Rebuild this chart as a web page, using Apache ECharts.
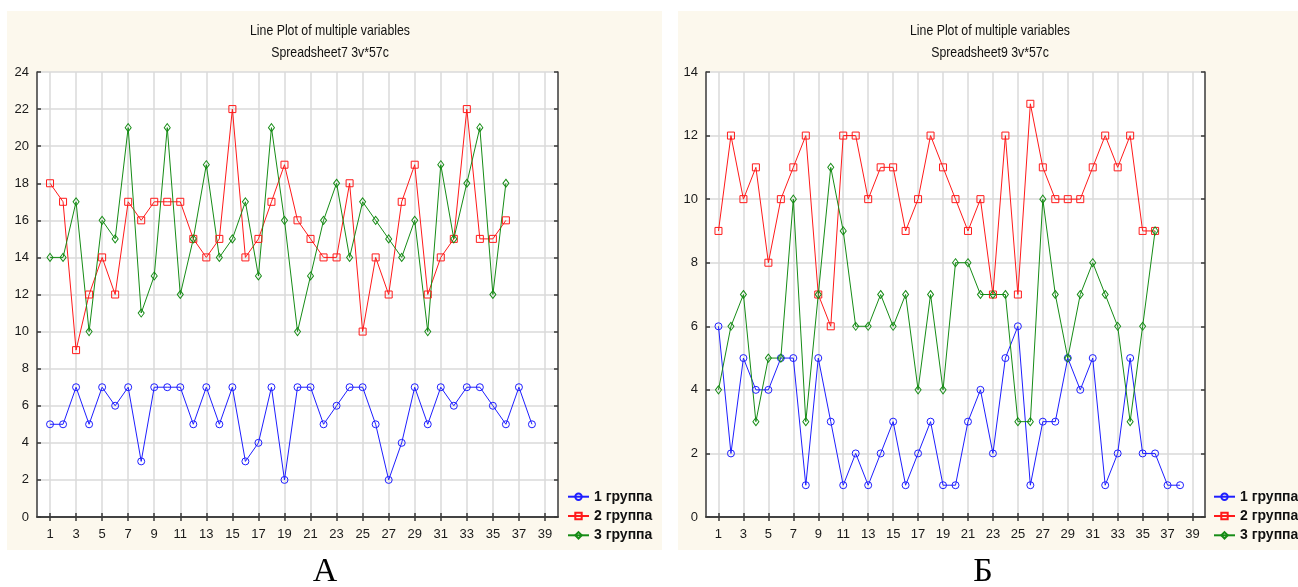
<!DOCTYPE html>
<html>
<head>
<meta charset="utf-8">
<script src="https://cdn.jsdelivr.net/npm/echarts@6/dist/echarts.min.js"></script>
<style>
  html, body { margin: 0; padding: 0; background: #ffffff; }
  #chart { width: 1298px; height: 587px; }
</style>
</head>
<body>
<div id="chart"></div>
<script>
// Case numbers along the x axis (0..40, labelled at odd cases)
const caseLabels = Array.from({ length: 41 }, (_, i) => String(i));
const groupNames = ['1 группа', '2 группа', '3 группа'];

// Spreadsheet7 (panel А)
const sheet7Group1 = [5, 5, 7, 5, 7, 6, 7, 3, 7, 7, 7, 5, 7, 5, 7, 3, 4, 7, 2, 7, 7, 5, 6, 7, 7, 5, 2, 4, 7, 5, 7, 6, 7, 7, 6, 5, 7, 5];
const sheet7Group2 = [18, 17, 9, 12, 14, 12, 17, 16, 17, 17, 17, 15, 14, 15, 22, 14, 15, 17, 19, 16, 15, 14, 14, 18, 10, 14, 12, 17, 19, 12, 14, 15, 22, 15, 15, 16];
const sheet7Group3 = [14, 14, 17, 10, 16, 15, 21, 11, 13, 21, 12, 15, 19, 14, 15, 17, 13, 21, 16, 10, 13, 16, 18, 14, 17, 16, 15, 14, 16, 10, 19, 15, 18, 21, 12, 18];

// Spreadsheet9 (panel Б)
const sheet9Group1 = [6, 2, 5, 4, 4, 5, 5, 1, 5, 3, 1, 2, 1, 2, 3, 1, 2, 3, 1, 1, 3, 4, 2, 5, 6, 1, 3, 3, 5, 4, 5, 1, 2, 5, 2, 2, 1, 1];
const sheet9Group2 = [9, 12, 10, 11, 8, 10, 11, 12, 7, 6, 12, 12, 10, 11, 11, 9, 10, 12, 11, 10, 9, 10, 7, 12, 7, 13, 11, 10, 10, 10, 11, 12, 11, 12, 9, 9];
const sheet9Group3 = [4, 6, 7, 3, 5, 5, 10, 3, 7, 11, 9, 6, 6, 7, 6, 7, 4, 7, 4, 8, 8, 7, 7, 7, 3, 3, 10, 7, 5, 7, 8, 7, 6, 3, 6, 9];

const yMaxA = 24;
const yMaxB = 14;
const yStep = 2;

const SANS = "'Liberation Sans', Arial, sans-serif";
const FRAME = '#3a3a3a';
const GRID = '#dadada';
const BLUE = '#1e1eff';
const RED = '#ff1a1a';
const GREEN = '#168c16';
const PANEL = '#fcf8ed';

const oddCase = (i) => i % 2 === 1;

function xAxes(gi) {
  const line = { show: true, lineStyle: { color: FRAME, width: 1.5 } };
  const tick = { show: true, inside: true, length: 4, interval: oddCase, lineStyle: { color: FRAME, width: 1.5 } };
  return [
    {
      type: 'category', gridIndex: gi, data: caseLabels, boundaryGap: false, position: 'bottom',
      axisLine: line, axisTick: tick,
      axisLabel: { interval: oddCase, margin: 11, color: '#1a1a1a', fontFamily: SANS, fontSize: 13 },
      splitLine: { show: true, interval: oddCase, lineStyle: { color: GRID, width: 1.5 } }
    },
    {
      type: 'category', gridIndex: gi, data: caseLabels, boundaryGap: false, position: 'top',
      axisLine: line, axisTick: tick, axisLabel: { show: false }, splitLine: { show: false }
    }
  ];
}

function yAxes(gi, max) {
  const line = { show: true, lineStyle: { color: FRAME, width: 1.5 } };
  const tick = { show: true, inside: true, length: 4, lineStyle: { color: FRAME, width: 1.5 } };
  return [
    {
      type: 'value', gridIndex: gi, min: 0, max: max, interval: yStep, position: 'left',
      axisLine: line, axisTick: tick,
      axisLabel: { margin: 8, color: '#1a1a1a', fontFamily: SANS, fontSize: 13 },
      splitLine: { show: true, lineStyle: { color: GRID, width: 1.5 } }
    },
    {
      type: 'value', gridIndex: gi, min: 0, max: max, interval: yStep, position: 'right',
      axisLine: line, axisTick: tick, axisLabel: { show: false }, splitLine: { show: false }
    }
  ];
}

function lineSeries(name, values, gi, color, symbol, size) {
  return {
    type: 'line', name: name,
    xAxisIndex: gi * 2, yAxisIndex: gi * 2,
    data: [null].concat(values),
    symbol: symbol, symbolSize: size, showAllSymbol: true,
    lineStyle: { color: color, width: 1 },
    itemStyle: { color: 'rgba(255,255,255,0)', borderColor: color, borderWidth: 1 },
    emphasis: { disabled: true },
    animation: false, z: 3
  };
}

function legendAt(left) {
  return {
    left: left, top: 489.7, orient: 'vertical', padding: 0,
    itemWidth: 21, itemHeight: 8, itemGap: 5.3, itemTextGap: 8,
    selectedMode: false, data: groupNames,
    textStyle: { fontFamily: SANS, fontWeight: 'bold', fontSize: 14, color: '#111', lineHeight: 14 }
  };
}

// Narrow-looking heading lines: regular sans squeezed horizontally
function titleText(x, y, text) {
  return {
    type: 'text', x: x, y: y, z: 5, scaleX: 0.82,
    style: { text: text, align: 'center', verticalAlign: 'middle', fontFamily: SANS, fontSize: 15, fill: '#111' }
  };
}

const chart = echarts.init(document.getElementById('chart'), null, { renderer: 'canvas' });

chart.setOption({
  animation: false,
  backgroundColor: '#ffffff',
  graphic: [
    { type: 'rect', z: -10, shape: { x: 7, y: 11, width: 655, height: 539 }, style: { fill: PANEL } },
    { type: 'rect', z: -10, shape: { x: 678, y: 11, width: 620, height: 539 }, style: { fill: PANEL } },
    titleText(330, 31, 'Line Plot of multiple variables'),
    titleText(330, 52.5, 'Spreadsheet7 3v*57c'),
    titleText(990, 31, 'Line Plot of multiple variables'),
    titleText(990, 52.5, 'Spreadsheet9 3v*57c'),
    { type: 'text', x: 325, y: 572, z: 5, style: { text: 'А', align: 'center', verticalAlign: 'middle', fontFamily: "'Liberation Serif', 'Times New Roman', serif", fontSize: 34, fill: '#000' } },
    { type: 'text', x: 983, y: 572, z: 5, style: { text: 'Б', align: 'center', verticalAlign: 'middle', fontFamily: "'Liberation Serif', 'Times New Roman', serif", fontSize: 34, fill: '#000' } }
  ],
  grid: [
    { left: 37, top: 72, width: 521, height: 445, show: true, backgroundColor: '#ffffff', borderWidth: 0, containLabel: false },
    { left: 706, top: 72, width: 499, height: 445, show: true, backgroundColor: '#ffffff', borderWidth: 0, containLabel: false }
  ],
  xAxis: xAxes(0).concat(xAxes(1)),
  yAxis: yAxes(0, yMaxA).concat(yAxes(1, yMaxB)),
  legend: [legendAt(567), legendAt(1213)],
  series: [
    lineSeries(groupNames[0], sheet7Group1, 0, BLUE, 'circle', 7),
    lineSeries(groupNames[1], sheet7Group2, 0, RED, 'rect', 7),
    lineSeries(groupNames[2], sheet7Group3, 0, GREEN, 'diamond', [6, 8]),
    lineSeries(groupNames[0], sheet9Group1, 1, BLUE, 'circle', 7),
    lineSeries(groupNames[1], sheet9Group2, 1, RED, 'rect', 7),
    lineSeries(groupNames[2], sheet9Group3, 1, GREEN, 'diamond', [6, 8])
  ]
});
</script>
</body>
</html>
